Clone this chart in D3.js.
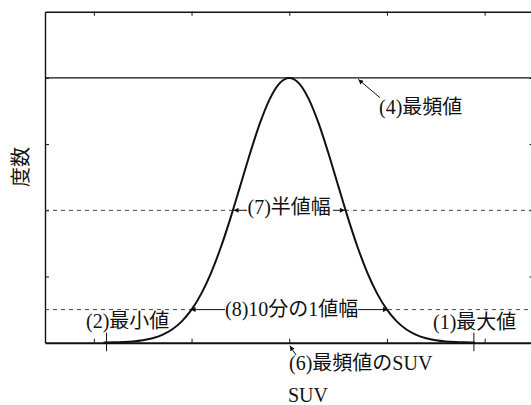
<!DOCTYPE html>
<html>
<head>
<meta charset="utf-8">
<script src="https://cdn.jsdelivr.net/npm/d3@7"></script>
<style>
  html, body { margin: 0; padding: 0; background: #fff; }
  svg { display: block; }
</style>
</head>
<body>
<svg id="chart" width="531" height="405"></svg>
<script>
// SUV histogram profile (frequency vs SUV)
const curveX = [1.1, 1.2, 1.3, 1.4, 1.5, 1.6, 1.7, 1.8, 1.9, 2.0,
                2.1, 2.2, 2.3, 2.4, 2.5, 2.6, 2.7, 2.8, 2.9, 3.0,
                3.1, 3.2, 3.3, 3.4, 3.5, 3.6, 3.7, 3.8, 3.9, 4.0,
                4.1, 4.2, 4.3, 4.4, 4.5, 4.6, 4.7, 4.8, 4.9];
const curveY = [0.002, 0.005, 0.010, 0.019, 0.037, 0.068, 0.118, 0.199, 0.322, 0.499,
                0.741, 1.055, 1.442, 1.890, 2.376, 2.866, 3.316, 3.680, 3.918, 4.000,
                3.918, 3.680, 3.316, 2.866, 2.376, 1.890, 1.442, 1.055, 0.741, 0.499,
                0.322, 0.199, 0.118, 0.068, 0.037, 0.019, 0.010, 0.005, 0.002];

const xTicks = [1, 2, 3, 4, 5];
const yTicks = [1, 2, 3, 4];

const modeFreq = 4;        // (4) peak frequency
const halfFreq = 2;        // level for (7)
const tenthFreq = 0.5;     // level for (8)
const halfEdges = [2.43, 3.57];
const tenthEdges = [1.99, 4.01];
const minSUV = 1.13;       // (2)
const maxSUV = 4.89;       // (1)
const modeSUV = 3;         // (6)

const labels = {
  mode: "(4)最頻値",
  half: "(7)半値幅",
  tenth: "(8)10分の1値幅",
  min: "(2)最小値",
  max: "(1)最大値",
  modeSUV: "(6)最頻値のSUV",
  xTitle: "SUV",
  yTitle: "度数"
};

const fontStack = "'Liberation Serif', 'Times New Roman', 'DejaVu Serif', 'Noto Sans CJK JP', serif";

const svg = d3.select("#chart");
const plotLeft = 45, plotRight = 533.5, plotTop = 11.7, plotBottom = 342.7;

const x = d3.scaleLinear().domain([0.5, 5.5]).range([plotLeft, plotRight]);
const y = d3.scaleLinear().domain([0, 5]).range([plotBottom, plotTop]);

svg.append("rect").attr("width", 531).attr("height", 405).attr("fill", "#fff");

const ink = "#111";

// Frame axes with inward ticks
svg.append("g").attr("transform", `translate(0,${plotBottom})`)
  .call(d3.axisBottom(x).tickValues(xTicks).tickSizeInner(-4).tickSizeOuter(0).tickFormat(""))
  .call(g => g.select(".domain").attr("stroke", ink).attr("stroke-width", 2))
  .call(g => g.selectAll(".tick line").attr("stroke", ink).attr("stroke-width", 1));
svg.append("g").attr("transform", `translate(0,${plotTop})`)
  .call(d3.axisTop(x).tickValues(xTicks).tickSizeInner(-4).tickSizeOuter(0).tickFormat(""))
  .call(g => g.select(".domain").attr("stroke", ink).attr("stroke-width", 1.4))
  .call(g => g.selectAll(".tick line").attr("stroke", ink).attr("stroke-width", 1));
svg.append("g").attr("transform", `translate(${plotLeft},0)`)
  .call(d3.axisLeft(y).tickValues(yTicks).tickSizeInner(-4).tickSizeOuter(0).tickFormat(""))
  .call(g => g.select(".domain").attr("stroke", ink).attr("stroke-width", 1.4))
  .call(g => g.selectAll(".tick line").attr("stroke", ink).attr("stroke-width", 1));
svg.append("g").attr("transform", `translate(${plotRight},0)`)
  .call(d3.axisRight(y).tickValues(yTicks).tickSizeInner(-4).tickSizeOuter(0).tickFormat(""))
  .call(g => g.select(".domain").attr("stroke", ink).attr("stroke-width", 1.4))
  .call(g => g.selectAll(".tick line").attr("stroke", ink).attr("stroke-width", 1));
svg.selectAll(".domain").attr("fill", "none");

// Arrowhead marker
const defs = svg.append("defs");
defs.append("marker")
  .attr("id", "arrow")
  .attr("viewBox", "0 0 10 10")
  .attr("refX", 10).attr("refY", 5)
  .attr("markerUnits", "userSpaceOnUse")
  .attr("markerWidth", 7).attr("markerHeight", 5)
  .attr("orient", "auto")
  .append("path").attr("d", "M0,0 L10,5 L0,10 Z").attr("fill", ink);

// Peak level line
svg.append("line")
  .attr("x1", x(0.5)).attr("x2", x(5.5))
  .attr("y1", y(modeFreq)).attr("y2", y(modeFreq))
  .attr("stroke", ink).attr("stroke-width", 1.4);

// Dashed width levels (broken where the annotation sits)
function dashed(level, edges) {
  [[x(0.5), x(edges[0])], [x(edges[1]), x(5.5)]].forEach(([a, b]) => {
    svg.append("line")
      .attr("x1", a).attr("x2", b)
      .attr("y1", y(level)).attr("y2", y(level))
      .attr("stroke", "#444").attr("stroke-width", 1)
      .attr("stroke-dasharray", "4,4");
  });
}
dashed(halfFreq, halfEdges);
dashed(tenthFreq, tenthEdges);

// Profile curve
const pts = curveX.map((v, i) => [v, curveY[i]]);
svg.append("path")
  .datum(pts)
  .attr("fill", "none")
  .attr("stroke", ink)
  .attr("stroke-width", 2)
  .attr("d", d3.line().x(d => x(d[0])).y(d => y(d[1])).curve(d3.curveMonotoneX));

// Min / max markers
[minSUV, maxSUV].forEach(v => {
  svg.append("line")
    .attr("x1", x(v)).attr("x2", x(v))
    .attr("y1", plotBottom - 10).attr("y2", plotBottom + 8.5)
    .attr("stroke", ink).attr("stroke-width", 1);
});

// Labels
function label(txt, xpos, ypos) {
  return svg.append("text").attr("x", xpos).attr("y", ypos)
    .attr("font-family", fontStack)
    .attr("font-size", 20).attr("fill", ink).text(txt);
}
label(labels.mode, 379, 113.5);
label(labels.half, 247.5, 213.5);
label(labels.tenth, 225, 315.5);
label(labels.min, 86, 328);
label(labels.max, 433, 328.5);
label(labels.modeSUV, 289, 369.5);
label(labels.xTitle, 288, 402);
svg.append("text")
  .attr("transform", "translate(28,167) rotate(-90)")
  .attr("text-anchor", "middle")
  .attr("font-family", fontStack)
  .attr("font-size", 20).attr("fill", ink)
  .text(labels.yTitle);

// Annotation arrows
function arrow(x1, y1, x2, y2) {
  svg.append("line")
    .attr("x1", x1).attr("y1", y1).attr("x2", x2).attr("y2", y2)
    .attr("stroke", ink).attr("stroke-width", 1)
    .attr("marker-end", "url(#arrow)");
}
arrow(380, 97.7, 358.3, y(modeFreq) + 1.5);
arrow(247, y(halfFreq), x(halfEdges[0]), y(halfFreq));
arrow(333, y(halfFreq), x(halfEdges[1]), y(halfFreq));
arrow(225, y(tenthFreq), x(tenthEdges[0]), y(tenthFreq));
arrow(358, y(tenthFreq), x(tenthEdges[1]), y(tenthFreq));
arrow(296, 355, x(modeSUV) + 0.5, plotBottom + 3);
</script>
</body>
</html>
